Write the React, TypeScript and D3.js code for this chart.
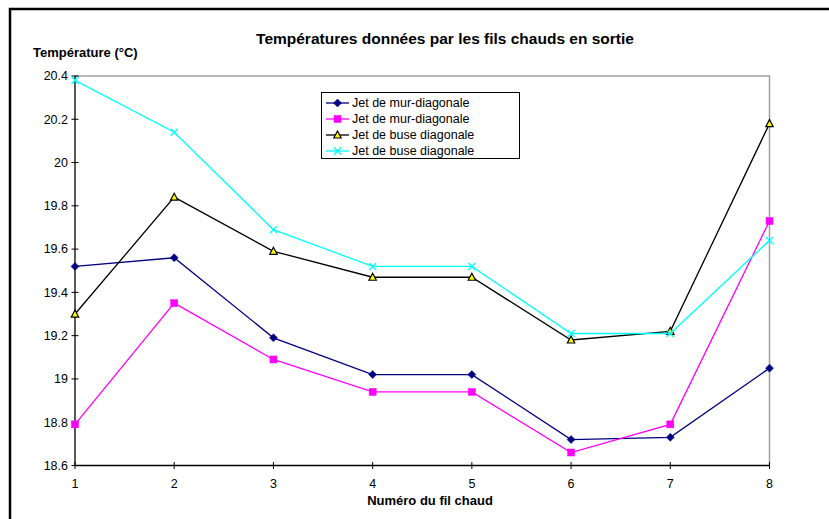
import React from "react";
import * as d3 from "d3";

const xValues = [1, 2, 3, 4, 5, 6, 7, 8];
const yTicks = [18.6, 18.8, 19, 19.2, 19.4, 19.6, 19.8, 20, 20.2, 20.4];
const murNavy = [19.52, 19.56, 19.19, 19.02, 19.02, 18.72, 18.73, 19.05];
const murMagenta = [18.79, 19.35, 19.09, 18.94, 18.94, 18.66, 18.79, 19.73];
const buseBlack = [19.3, 19.84, 19.59, 19.47, 19.47, 19.18, 19.22, 20.18];
const buseCyan = [20.38, 20.14, 19.69, 19.52, 19.52, 19.21, 19.21, 19.64];
const seriesNames = [
  "Jet de mur-diagonale",
  "Jet de mur-diagonale",
  "Jet de buse diagonale",
  "Jet de buse diagonale",
];
const title = "Températures données par les fils chauds en sortie";
const yTitle = "Température (°C)";
const xTitle = "Numéro du fil chaud";

type Marker = "diamond" | "square" | "triangle" | "x";
const series: { name: string; values: number[]; color: string; marker: Marker }[] = [
  { name: seriesNames[0], values: murNavy, color: "#000080", marker: "diamond" },
  { name: seriesNames[1], values: murMagenta, color: "#FF00FF", marker: "square" },
  { name: seriesNames[2], values: buseBlack, color: "#000000", marker: "triangle" },
  { name: seriesNames[3], values: buseCyan, color: "#00FFFF", marker: "x" },
];

const FONT = "'Liberation Sans', Arial, sans-serif";

function MarkerShape({ kind, x, y, color }: { kind: Marker; x: number; y: number; color: string }) {
  if (kind === "diamond") {
    return <path d={`M${x},${y - 4}L${x + 4},${y}L${x},${y + 4}L${x - 4},${y}Z`} fill={color} stroke={color} strokeWidth={0.5} />;
  }
  if (kind === "square") {
    return <rect x={x - 3.5} y={y - 3.5} width={7} height={7} fill={color} stroke={color} strokeWidth={0.5} />;
  }
  if (kind === "triangle") {
    return <path d={`M${x},${y - 4}L${x + 3.7},${y + 3}L${x - 3.7},${y + 3}Z`} fill="#FFFF00" stroke="#000" strokeWidth={1.2} />;
  }
  return (
    <path d={`M${x - 3.5},${y - 3.5}L${x + 3.5},${y + 3.5}M${x - 3.5},${y + 3.5}L${x + 3.5},${y - 3.5}`} stroke={color} strokeWidth={1.3} fill="none" />
  );
}

export default function App() {
  const W = 829;
  const H = 519;
  const left = 75;
  const right = 769.5;
  const top = 76;
  const bottom = 465.5;

  const x = d3.scaleLinear().domain([1, 8]).range([left, right]);
  const y = d3.scaleLinear().domain([18.6, 20.4]).range([bottom, top]);
  const line = d3
    .line<number>()
    .x((_, i) => x(xValues[i]))
    .y((d) => y(d));

  const legX = 321.5;
  const legY = 92.5;
  const legW = 198;
  const legH = 66;
  const rowH = 16;

  return (
    <svg width={W} height={H} style={{ position: "absolute", left: 0, top: 0, background: "#fff" }} fontFamily={FONT}>
      <rect x={0} y={0} width={W} height={H} fill="#fff" />
      {/* outer chart border */}
      <rect x={10} y={9} width={W + 20} height={H + 20} fill="none" stroke="#000" strokeWidth={2.5} />

      {/* title */}
      <text x={445} y={44} textAnchor="middle" fontSize={15.5} fontWeight="bold">
        {title}
      </text>
      <text x={33} y={57} fontSize={13} fontWeight="bold">
        {yTitle}
      </text>

      {/* plot area border (gray top/right) */}
      <path d={`M${left},${top}H${right}V${bottom}`} fill="none" stroke="#A0A0A0" strokeWidth={1.5} />

      {/* axes */}
      <line x1={left} y1={top} x2={left} y2={bottom} stroke="#000" strokeWidth={1.3} />
      <line x1={left} y1={bottom} x2={right} y2={bottom} stroke="#000" strokeWidth={1.3} />

      {yTicks.map((t) => (
        <g key={`y${t}`}>
          <line x1={left - 3.5} x2={left + 3.5} y1={y(t)} y2={y(t)} stroke="#000" strokeWidth={1} />
          <text x={68} y={y(t)} dy="0.35em" textAnchor="end" fontSize={12.5}>
            {d3.format("")(t)}
          </text>
        </g>
      ))}
      {xValues.map((t) => (
        <g key={`x${t}`}>
          <line x1={x(t)} x2={x(t)} y1={bottom - 3.5} y2={bottom + 3.5} stroke="#000" strokeWidth={1} />
          <text x={x(t)} y={487.5} textAnchor="middle" fontSize={12.5}>
            {t}
          </text>
        </g>
      ))}
      <text x={430} y={505} textAnchor="middle" fontSize={13} fontWeight="bold">
        {xTitle}
      </text>

      {/* series */}
      {series.map((s, si) => (
        <g key={`s${si}`}>
          <path d={line(s.values) || ""} fill="none" stroke={s.color} strokeWidth={1.3} />
          {s.values.map((v, i) => (
            <MarkerShape key={i} kind={s.marker} x={x(xValues[i])} y={y(v)} color={s.color} />
          ))}
        </g>
      ))}

      {/* legend */}
      <rect x={legX} y={legY} width={legW} height={legH} fill="#fff" stroke="#000" strokeWidth={1} />
      {series.map((s, i) => {
        const cy = legY + 10.5 + i * rowH;
        return (
          <g key={`l${i}`}>
            <line x1={326} x2={349} y1={cy} y2={cy} stroke={s.color} strokeWidth={1.3} />
            <MarkerShape kind={s.marker} x={337.5} y={cy} color={s.color} />
            <text x={352} y={cy} dy="0.35em" fontSize={12.5}>
              {s.name}
            </text>
          </g>
        );
      })}
    </svg>
  );
}
